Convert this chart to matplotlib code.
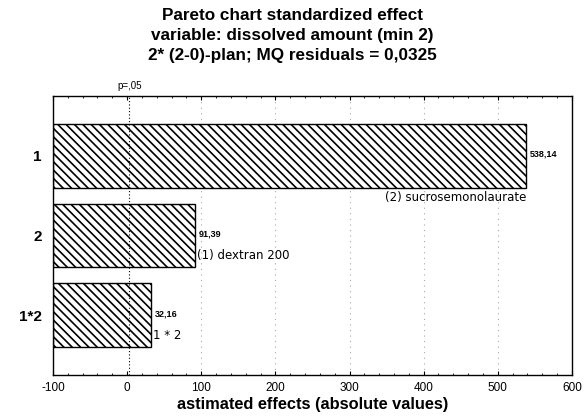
"""
Pareto chart of standardized effects for the dissolved amount (min 2).
"""
import numpy as np
import matplotlib.pyplot as plt

plt.rcParams["font.family"] = ["Liberation Sans", "DejaVu Sans"]
plt.rcParams["axes.unicode_minus"] = False

FACTORS = ["1", "2", "1*2"]
FACTOR_NAMES = ["(2) sucrosemonolaurate", "(1) dextran 200", "1 * 2"]
EFFECTS = [538.14, 91.39, 32.16]
VALUE_LABELS = ["538,14", "91,39", "32,16"]
P_LIMIT = 3.0
X_TICKS = [-100, 0, 100, 200, 300, 400, 500, 600]

TITLE = ("Pareto chart standardized effect\n"
         "variable: dissolved amount (min 2)\n"
         "2* (2-0)-plan; MQ residuals = 0,0325")
OUTPUT = "out.png"


if __name__ == "__main__":
    plt.rcParams["hatch.linewidth"] = 1.2

    fig = plt.figure(figsize=(5.85, 4.2), dpi=100)
    ax = fig.add_axes([0.0906, 0.107, 0.887, 0.664])

    x0 = X_TICKS[0]
    ypos = np.arange(len(FACTORS))
    ax.barh(ypos, np.array(EFFECTS) - x0, left=x0, height=0.8, color="white",
            edgecolor="black", linewidth=1.0, hatch="\\\\\\\\", zorder=2)

    # grid and p-limit line
    for x in X_TICKS[2:-1]:
        ax.axvline(x, color="#aaaaaa", lw=0.8, ls=(0, (1, 4)), zorder=1)
    ax.axvline(P_LIMIT, color="black", lw=0.8, ls=(0, (1, 2)), zorder=3)
    ax.text(P_LIMIT, 1.02, "p=,05", ha="center", va="bottom", fontsize=7,
            transform=ax.get_xaxis_transform())

    for y, val, vlab, name in zip(ypos, EFFECTS, VALUE_LABELS, FACTOR_NAMES):
        ax.text(val + 5, y - 0.02, vlab, ha="left", va="center",
                fontsize=6.5, fontweight="bold")
        if val > 400:
            ax.text(val, y + 0.52, name, ha="right", va="center", fontsize=8.5,
                    family=["DejaVu Sans"])
        else:
            ax.text(val + 3, y + 0.25, name, ha="left", va="center",
                    fontsize=8.5, family=["DejaVu Sans"])

    ax.set_xlim(-100, 600)
    ax.set_ylim(2.75, -0.75)
    ax.set_xticks(X_TICKS)
    ax.set_xticks(np.arange(-100, 601, 20), minor=True)
    ax.tick_params(axis="x", which="major", direction="in", length=3,
                   labelsize=8.5, pad=5, top=True)
    ax.tick_params(axis="x", which="minor", direction="in", length=1.5,
                   top=True)
    ax.set_yticks(ypos)
    ax.set_yticklabels(FACTORS, fontsize=11, fontweight="bold")
    ax.tick_params(axis="y", length=0, pad=8)

    for spine in ax.spines.values():
        spine.set_linewidth(1.0)

    ax.set_xlabel("astimated effects (absolute values)", fontsize=11.8,
                  fontweight="bold", labelpad=2)
    fig.suptitle(TITLE, fontsize=12.3, fontweight="bold", y=0.98,
                 linespacing=1.4)

    plt.savefig(OUTPUT, dpi=100)
